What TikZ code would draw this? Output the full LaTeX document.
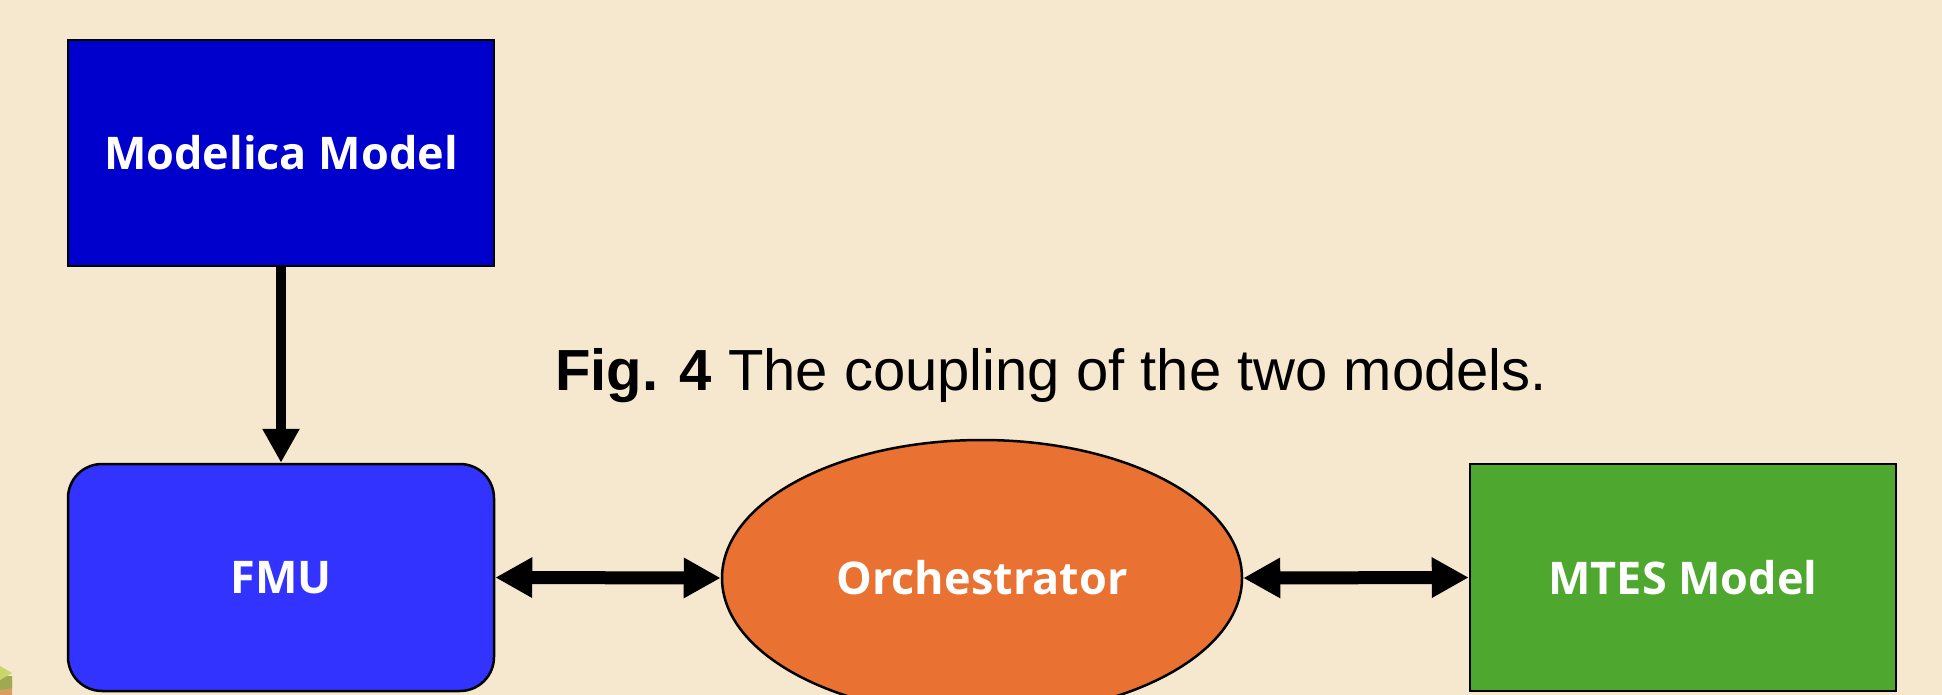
\documentclass[tikz,border=0pt]{standalone}
\usepackage{fontspec}
\setmainfont{Liberation Sans}
\newfontfamily\boxfont{Open Sans}
\usetikzlibrary{arrows.meta,shapes.geometric}
\definecolor{bgc}{HTML}{F6E8CF}
\definecolor{darkblue}{HTML}{0000CC}
\definecolor{midblue}{HTML}{3333FF}
\definecolor{orng}{HTML}{E97132}
\definecolor{grn}{HTML}{4EA72E}
\definecolor{cubeA}{HTML}{D7A060}
\definecolor{cubeB}{HTML}{9EAA52}
\definecolor{cubeC}{HTML}{C8D66A}
\begin{document}
\begin{tikzpicture}[x=1pt,y=-1pt,
  boxstyle/.style={draw=black,line width=2.5pt,minimum width=426pt,minimum height=226pt,inner sep=0pt,
    text=white,font=\boxfont\bfseries\fontsize{45}{50}\selectfont},
  dbl/.style={line width=13pt,{Triangle[length=37pt,width=38pt]}-{Triangle[length=37pt,width=38pt]}},
  sgl/.style={line width=10pt,-{Triangle[length=34pt,width=35pt]}}]
\useasboundingbox (0,0) rectangle (1942,695);
\fill[bgc] (0,0) rectangle (1942,695);
% small cube fragment
\fill[cubeA] (0,686) -- (12,680) -- (12,695) -- (0,695) -- cycle;
\fill[cubeB] (0,676) -- (12,676) -- (12,688) -- (0,690) -- cycle;
\fill[cubeC] (0,666) -- (12,673) -- (0,680) -- cycle;
\node[boxstyle,fill=darkblue] (mod) at (281,153) {Modelica Model};
\node[boxstyle,fill=midblue,rounded corners=34pt,minimum height=227pt] (fmu) at (281,577.5) {FMU};
\node[draw=black,line width=2.5pt,ellipse,fill=orng,minimum width=520pt,minimum height=276pt,inner sep=0pt,
  text=white,font=\boxfont\bfseries\fontsize{45}{50}\selectfont] (orch) at (982,578) {Orchestrator};
\node[boxstyle,fill=grn,minimum height=227pt] (mtes) at (1683,577.5) {MTES Model};
\node[anchor=base west,inner sep=0pt,font=\fontsize{58}{64}\selectfont] (cap) at (555,390) {\textbf{Fig. 4} The coupling of the two models.};
\draw[sgl] (mod.south) -- (fmu.north);
\draw[dbl] (fmu.east) -- (orch.west);
\draw[dbl] (orch.east) -- (mtes.west);
\end{tikzpicture}
\end{document}
